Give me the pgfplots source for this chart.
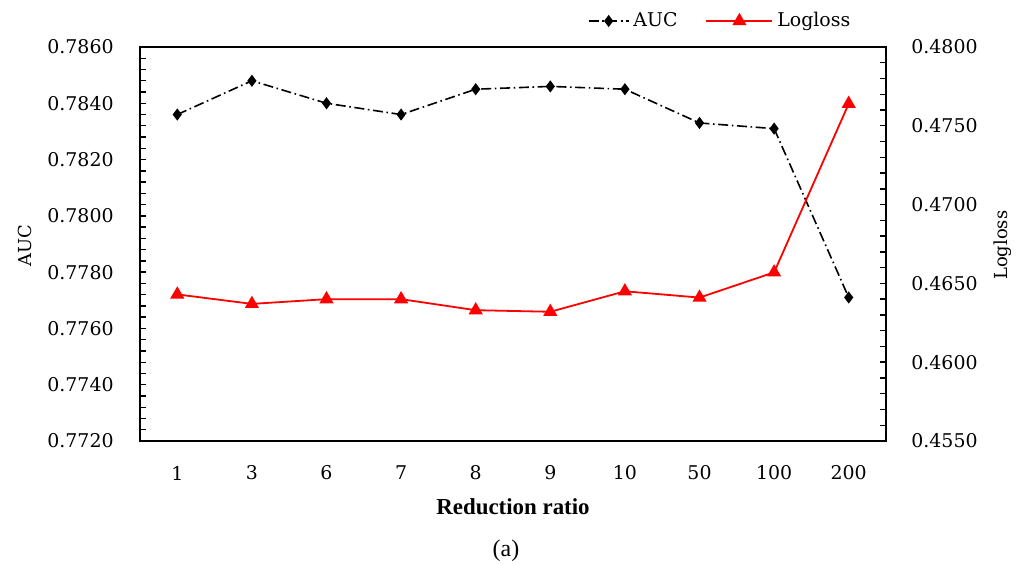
\documentclass[border=0pt]{standalone}
\usepackage{fontspec}
\setmainfont{DejaVu Serif}
\newfontfamily\xlfont{Liberation Serif}
\usepackage{pgfplots}
\pgfplotsset{compat=1.18}
\pgfplotstableread{
x auc logloss
0 0.7836 0.4643
1 0.7848 0.4637
2 0.7840 0.4640
3 0.7836 0.4640
4 0.7845 0.4633
5 0.7846 0.4632
6 0.7845 0.4645
7 0.7833 0.4641
8 0.7831 0.4657
9 0.7771 0.4764
}\data
\begin{document}
\fontsize{9}{11}\selectfont
\begin{tikzpicture}
\pgfplotsset{
  every axis/.append style={
    scale only axis, width=373bp, height=197bp,
    xmin=-0.5, xmax=9.5,
    clip=false,
    font=\fontsize{9}{11}\selectfont,
    tick label style={font=\fontsize{9.5}{11}\selectfont},
    /pgf/number format/assume math mode=true,
    tick align=inside, major tick length=3bp, minor tick length=3bp,
    axis line style={line width=1bp},
    tick style={line width=0.7bp, black},
    minor y tick num=4,
    yticklabel style={/pgf/number format/fixed, /pgf/number format/fixed zerofill, /pgf/number format/precision=4},
  },
  aucstyle/.style={black, line width=0.8bp, dash pattern=on 5bp off 1.8bp on 0.8bp off 1.8bp, mark=diamond*, mark size=2.4bp, mark options={solid}},
  llstyle/.style={red, line width=0.9bp, mark=triangle*, mark size=3.2bp, mark options={solid}},
}
\begin{axis}[
  ymin=0.772, ymax=0.786,
  ytick={0.772,0.774,0.776,0.778,0.780,0.782,0.784,0.786},
  ytick pos=left,
  xtick={0,...,9}, xticklabels={1,3,6,7,8,9,10,50,100,200},
  major x tick style={draw=none},
  xticklabel style={anchor=center, yshift=-16bp},
  yticklabel style={xshift=-10bp},
  ylabel={AUC},
  ylabel style={at={(axis description cs:-0.1542,0.497)}, anchor=center, rotate=0},
  xlabel={\xlfont\fontsize{11.5}{13}\selectfont\bfseries Reduction ratio},
  xlabel style={at={(axis description cs:0.5,-0.1675)}, anchor=center},
]
\addplot[aucstyle] table[x=x, y=auc] {\data};
\node[font=\xlfont\fontsize{12}{13}\selectfont] at (axis description cs:0.4906,-0.279) {(a)};
\end{axis}
\begin{axis}[
  ymin=0.455, ymax=0.480,
  ytick={0.455,0.460,0.465,0.470,0.475,0.480},
  axis y line*=right, axis x line=none,
  xtick=\empty,
  yticklabel style={xshift=9.5bp},
  ylabel={Logloss},
  ylabel style={at={(axis description cs:1.1568,0.497)}, anchor=center, rotate=0},
  legend style={draw=none, fill=none, legend columns=2, at={(axis description cs:0.966,1.066)}, anchor=east,
    /tikz/every even column/.append style={column sep=12bp}, font=\fontsize{9.5}{11}\selectfont},
]
\addlegendimage{aucstyle, legend image code/.code={\draw[mark repeat=2,mark phase=2] plot coordinates {(0bp,0bp) (10bp,0bp) (20bp,0bp)};}}
\addlegendentry{AUC}
\addplot[llstyle, legend image code/.code={\draw[mark repeat=2,mark phase=2] plot coordinates {(0bp,0bp) (16.5bp,0bp) (33bp,0bp)};}] table[x=x, y=logloss] {\data};
\addlegendentry{Logloss}
\end{axis}
\pgfresetboundingbox
\path (-70bp,-62bp) rectangle (443.5bp,220.5bp);
\end{tikzpicture}
\end{document}
